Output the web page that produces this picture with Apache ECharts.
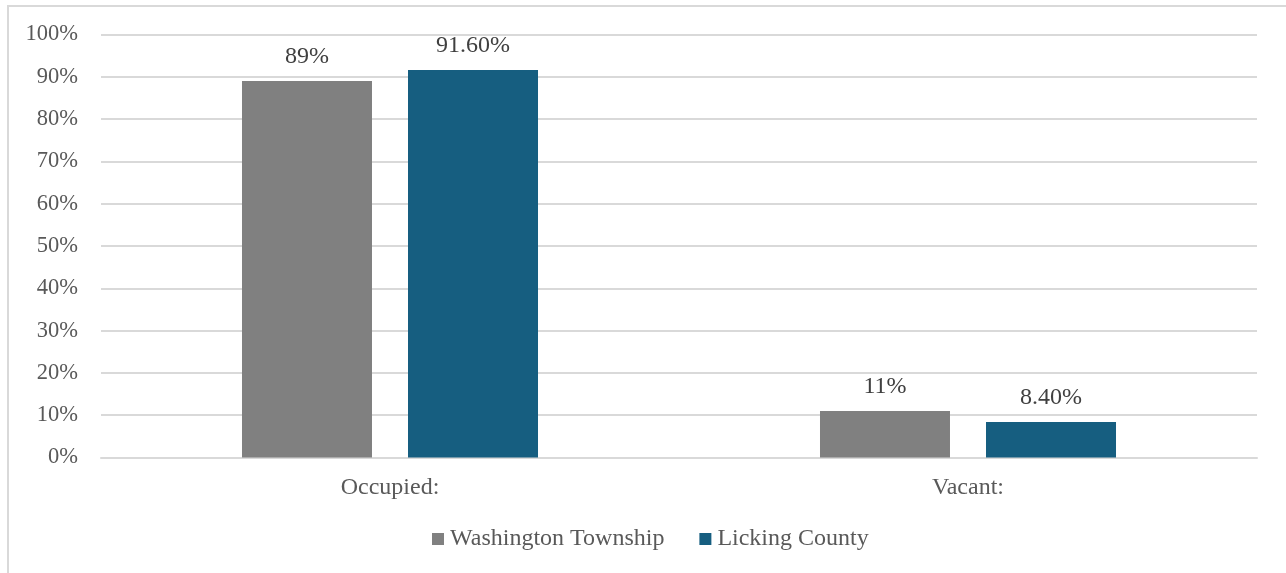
<!DOCTYPE html>
<html><head><meta charset="utf-8">
<script src="https://cdn.jsdelivr.net/npm/echarts@6/dist/echarts.min.js"></script>
<style>
html,body{margin:0;padding:0;background:#fff;overflow:hidden}
#frame{position:absolute;left:7px;top:5px;width:1300px;height:600px;border:2px solid #d9d9d9;box-sizing:border-box}
#c{position:absolute;left:0;top:0;width:1286px;height:573px}
</style></head>
<body>
<div id="frame"></div>
<div id="c"></div>
<script>
const categories = ['Occupied:', 'Vacant:'];
const seriesNames = ['Washington Township', 'Licking County'];
const washington = [89, 11];
const licking = [91.6, 8.4];
const washingtonLabels = ['89%', '11%'];
const lickingLabels = ['91.60%', '8.40%'];
const yTicks = [0, 10, 20, 30, 40, 50, 60, 70, 80, 90, 100];

const font = '"Liberation Serif", "Times New Roman", serif';
const chart = echarts.init(document.getElementById('c'));
function mk(name, data, labels, color) {
  return {
    name, type: 'bar', data, barWidth: 130, barGap: '27.7%',
    itemStyle: { color },
    label: {
      show: true, position: 'top', distance: 12,
      fontFamily: font, fontSize: 24, color: '#404040',
      formatter: p => labels[p.dataIndex]
    }
  };
}
chart.setOption({
  animation: false,
  textStyle: { fontFamily: font },
  grid: { left: 101, right: 29, top: 34.5, bottom: 115.5, containLabel: false },
  legend: {
    data: seriesNames, bottom: 17, left: 427,
    itemWidth: 12, itemHeight: 12, itemGap: 35, icon: 'rect',
    textStyle: { fontFamily: font, fontSize: 24, color: '#595959', padding: [0, 0, 0, 1] }
  },
  xAxis: {
    type: 'category', data: categories,
    axisLine: { lineStyle: { color: '#d9d9d9', width: 2 } },
    axisTick: { show: false },
    axisLabel: { fontFamily: font, fontSize: 24, color: '#595959', margin: 18 }
  },
  yAxis: {
    type: 'value', min: yTicks[0], max: yTicks[yTicks.length - 1], interval: 10,
    axisLine: { show: false }, axisTick: { show: false },
    splitLine: { lineStyle: { color: '#d9d9d9', width: 2 } },
    axisLabel: { fontFamily: font, fontSize: 22.5, color: '#595959', margin: 23, formatter: '{value}%' }
  },
  series: [
    mk(seriesNames[0], washington, washingtonLabels, '#808080'),
    mk(seriesNames[1], licking, lickingLabels, '#165e80')
  ]
});
</script>
</body></html>
